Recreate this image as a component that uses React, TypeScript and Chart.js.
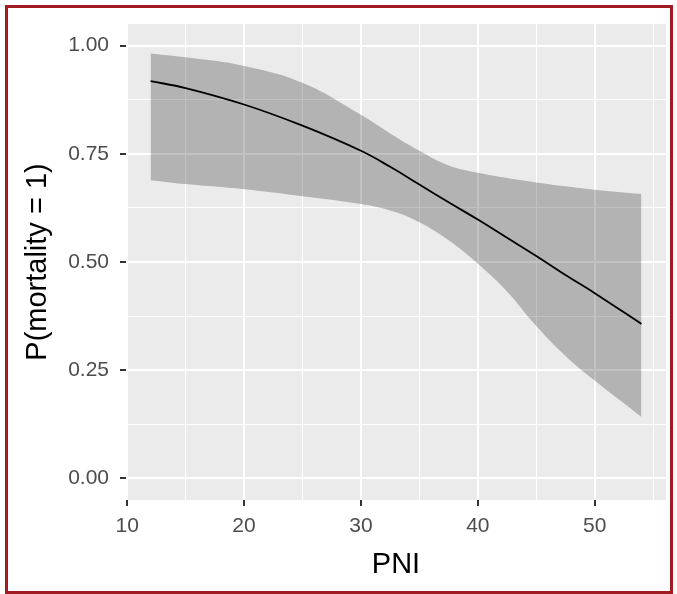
import React, { useEffect, useRef } from 'react';
import { Chart, registerables } from 'chart.js';

Chart.register(...registerables);

// PNI values where the predicted probability is read
const pniValues = [12, 15, 20, 25, 30, 32.5, 35, 37.5, 40, 42.5, 45, 47.5, 50, 54];
// predicted P(mortality = 1)
const predicted = [0.918, 0.902, 0.864, 0.815, 0.757, 0.72, 0.679, 0.638, 0.598, 0.556, 0.514, 0.47, 0.428, 0.357];
// upper 95% confidence limit
const upperCI = [0.982, 0.973, 0.953, 0.914, 0.84, 0.797, 0.757, 0.723, 0.706, 0.694, 0.684, 0.675, 0.667, 0.657];
// lower 95% confidence limit
const lowerCI = [0.689, 0.68, 0.668, 0.652, 0.634, 0.619, 0.592, 0.55, 0.496, 0.432, 0.352, 0.283, 0.226, 0.142];

const xTickValues = [10, 15, 20, 25, 30, 35, 40, 45, 50, 55];
const xTickLabels = ['10', '', '20', '', '30', '', '40', '', '50', ''];
const yTickValues = [0, 0.125, 0.25, 0.375, 0.5, 0.625, 0.75, 0.875, 1];
const yTickLabels = ['0.00', '', '0.25', '', '0.50', '', '0.75', '', '1.00'];

const FONT = '"Liberation Sans", Arial, Helvetica, sans-serif';

export default function App() {
  const ref = useRef<HTMLCanvasElement>(null);

  useEffect(() => {
    if (!ref.current) return;
    const panelBg = {
      id: 'panelBg',
      beforeDraw(chart: any) {
        const { ctx, chartArea: a } = chart;
        ctx.save();
        ctx.fillStyle = '#EBEBEB';
        ctx.fillRect(a.left, a.top, a.right - a.left, a.bottom - a.top);
        ctx.restore();
      },
    };
    const isMajorX = (ctx: any) => ctx.tick && xTickLabels[xTickValues.indexOf(ctx.tick.value)] !== '';
    const isMajorY = (ctx: any) => ctx.tick && yTickLabels[yTickValues.indexOf(ctx.tick.value)] !== '';

    const chart = new Chart(ref.current, {
      type: 'line',
      data: {
        datasets: [
          {
            label: 'upper',
            data: pniValues.map((x, i) => ({ x, y: upperCI[i] })),
            fill: '+1',
            backgroundColor: 'rgba(0,0,0,0.24)',
            borderWidth: 0,
            borderColor: 'rgba(0,0,0,0)',
            pointRadius: 0,
            tension: 0.4,
          },
          {
            label: 'lower',
            data: pniValues.map((x, i) => ({ x, y: lowerCI[i] })),
            fill: false,
            borderWidth: 0,
            borderColor: 'rgba(0,0,0,0)',
            pointRadius: 0,
            tension: 0.4,
          },
          {
            label: 'predicted',
            data: pniValues.map((x, i) => ({ x, y: predicted[i] })),
            fill: false,
            borderColor: '#000000',
            borderWidth: 1.8,
            pointRadius: 0,
            tension: 0.4,
          },
        ],
      },
      options: {
        responsive: false,
        animation: false,
        devicePixelRatio: 1,
        layout: { padding: { top: 24, right: 11, left: 0, bottom: 0 } },
        plugins: { legend: { display: false }, tooltip: { enabled: false } },
        scales: {
          x: {
            type: 'linear',
            min: 9.9,
            max: 56.1,
            afterBuildTicks: (s: any) => {
              s.ticks = xTickValues.map((v) => ({ value: v }));
            },
            afterFit: (s: any) => {
              s.height = 94;
            },
            ticks: {
              autoSkip: false,
              maxRotation: 0,
              padding: 8,
              color: '#4D4D4D',
              font: { family: FONT, size: 21 },
              callback: (_v: any, i: number) => xTickLabels[i],
            },
            grid: {
              color: '#FFFFFF',
              lineWidth: (ctx: any) => (isMajorX(ctx) ? 2 : 1),
              tickLength: 6,
              tickWidth: 2,
              tickColor: (ctx: any) => (isMajorX(ctx) ? '#333333' : 'rgba(0,0,0,0)'),
            },
            border: { display: false },
            title: {
              display: true,
              text: 'PNI',
              color: '#000000',
              font: { family: FONT, size: 29 },
              padding: { top: 0, bottom: 11.5 },
            },
          },
          y: {
            type: 'linear',
            min: -0.05,
            max: 1.05,
            afterBuildTicks: (s: any) => {
              s.ticks = yTickValues.map((v) => ({ value: v }));
            },
            afterFit: (s: any) => {
              s.width = 126;
            },
            ticks: {
              autoSkip: false,
              padding: 11,
              color: '#4D4D4D',
              font: { family: FONT, size: 21 },
              callback: (_v: any, i: number) => yTickLabels[i],
            },
            grid: {
              color: '#FFFFFF',
              lineWidth: (ctx: any) => (isMajorY(ctx) ? 2 : 1),
              tickLength: 6,
              tickWidth: 2,
              tickColor: (ctx: any) => (isMajorY(ctx) ? '#333333' : 'rgba(0,0,0,0)'),
            },
            border: { display: false },
            title: {
              display: true,
              text: 'P(mortality = 1)',
              color: '#000000',
              font: { family: FONT, size: 29 },
              padding: { top: 20.5, bottom: 0 },
            },
          },
        },
      },
      plugins: [panelBg],
    } as any);
    return () => chart.destroy();
  }, []);

  return (
    <div style={{ position: 'absolute', left: 0, top: 0, width: 677, height: 594, background: '#ffffff' }}>
      <canvas ref={ref} width={677} height={594} style={{ position: 'absolute', left: 0, top: 0, width: 677, height: 594 }} />
      <div
        style={{
          position: 'absolute',
          left: 5,
          top: 5,
          width: 668,
          height: 589,
          boxSizing: 'border-box',
          border: '3px solid #A01B22',
          pointerEvents: 'none',
        }}
      />
    </div>
  );
}
